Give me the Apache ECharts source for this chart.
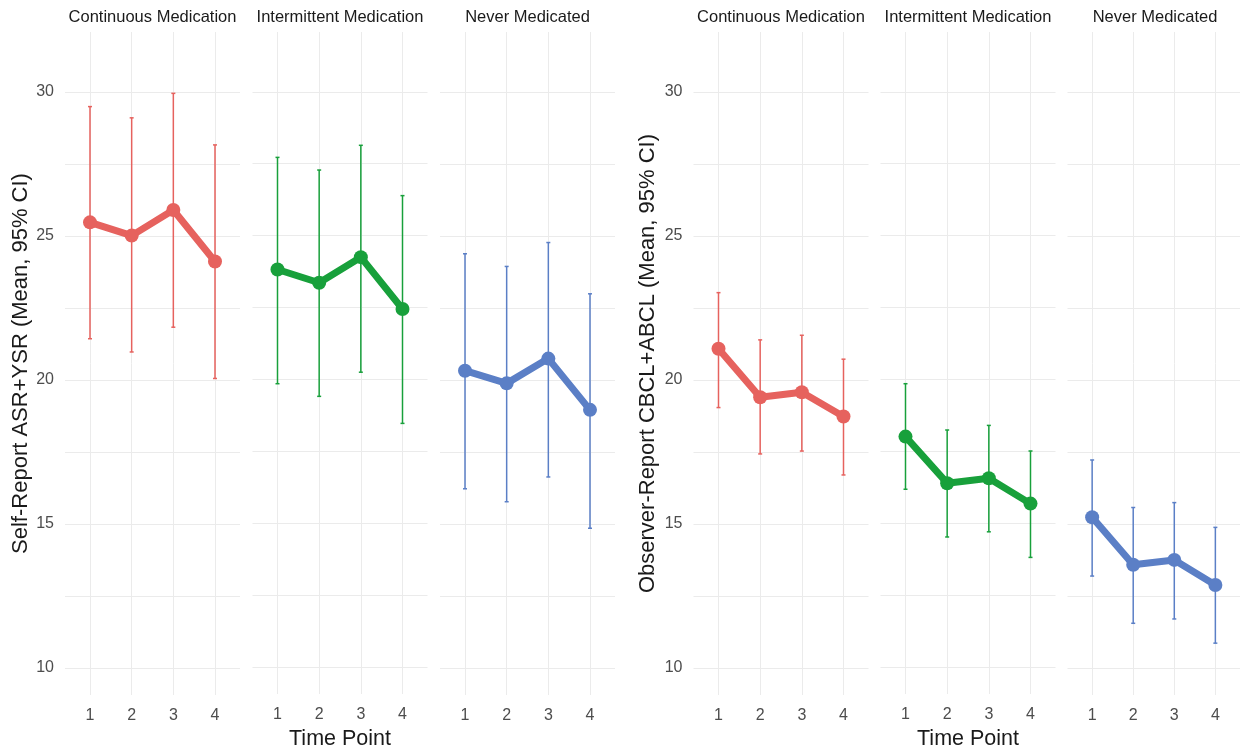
<!DOCTYPE html>
<html>
<head>
<meta charset="utf-8">
<script src="https://cdn.jsdelivr.net/npm/echarts@6/dist/echarts.min.js"></script>
<style>
html,body{margin:0;padding:0;background:#fff;}
#chart{width:1240px;height:755px;}
</style>
</head>
<body>
<div id="chart"></div>
<script>
// ---- data ----
const timePoints = [1, 2, 3, 4];
const groups = ['Continuous Medication', 'Intermittent Medication', 'Never Medicated'];
const yTickLabels = [10, 15, 20, 25, 30];
const yGridValues = [10, 12.5, 15, 17.5, 20, 22.5, 25, 27.5, 30];
const panelTitles = ['Self-Report ASR+YSR (Mean, 95% CI)', 'Observer-Report CBCL+ABCL (Mean, 95% CI)'];
const xTitle = 'Time Point';

// Self-report
const selfContMean = [25.47, 25.01, 25.90, 24.11];
const selfContLow  = [21.43, 20.97, 21.83, 20.05];
const selfContHigh = [29.49, 29.10, 29.95, 28.16];
const selfIntMean  = [23.82, 23.36, 24.25, 22.45];
const selfIntLow   = [19.85, 19.41, 20.25, 18.47];
const selfIntHigh  = [27.72, 27.28, 28.14, 26.39];
const selfNevMean  = [20.32, 19.88, 20.74, 18.96];
const selfNevLow   = [16.22, 15.77, 16.63, 14.85];
const selfNevHigh  = [24.38, 23.94, 24.77, 22.99];
// Observer-report
const obsContMean = [21.08, 19.40, 19.57, 18.73];
const obsContLow  = [19.04, 17.43, 17.53, 16.70];
const obsContHigh = [23.03, 21.39, 21.55, 20.72];
const obsIntMean  = [18.01, 16.39, 16.56, 15.68];
const obsIntLow   = [16.18, 14.52, 14.70, 13.81];
const obsIntHigh  = [19.85, 18.24, 18.40, 17.51];
const obsNevMean  = [15.23, 13.58, 13.75, 12.88];
const obsNevLow   = [13.19, 11.55, 11.70, 10.86];
const obsNevHigh  = [17.22, 15.57, 15.74, 14.88];

const groupColors = ['#E6625E', '#18A03B', '#5B7FC6'];

// ---- layout ----
const facets = [
  {left: 65,    panel: 0, g: 0, mean: selfContMean, low: selfContLow, high: selfContHigh},
  {left: 252.5, panel: 0, g: 1, mean: selfIntMean,  low: selfIntLow,  high: selfIntHigh},
  {left: 440,   panel: 0, g: 2, mean: selfNevMean,  low: selfNevLow,  high: selfNevHigh},
  {left: 693.5, panel: 1, g: 0, mean: obsContMean,  low: obsContLow,  high: obsContHigh},
  {left: 880.5, panel: 1, g: 1, mean: obsIntMean,   low: obsIntLow,   high: obsIntHigh},
  {left: 1067.5,panel: 1, g: 2, mean: obsNevMean,   low: obsNevLow,   high: obsNevHigh}
];
const FW = 175, TOP = 32, FH = 663;
const FONT = '"Liberation Sans", Arial, sans-serif';
const yNameGaps = [33, 34.5];

const grid = [], xAxis = [], yAxis = [], series = [], title = [];
facets.forEach((f, i) => {
  grid.push({left: f.left, top: TOP, width: FW, height: FH, containLabel: false});
  xAxis.push({
    gridIndex: i, type: 'value', min: 0.4, max: 4.6,
    axisLine: {show: false},
    axisTick: {show: false, customValues: timePoints},
    axisLabel: {customValues: timePoints, color: '#4d4d4d', fontSize: 16, fontFamily: FONT, margin: 13},
    splitLine: {show: true, lineStyle: {color: '#ebebeb', width: 1}},
    name: f.g === 1 ? xTitle : '',
    nameLocation: 'middle', nameGap: 34,
    nameTextStyle: {fontSize: 21.5, color: '#1a1a1a', fontFamily: FONT}
  });
  yAxis.push({
    gridIndex: i, type: 'value', min: 9.06, max: 32.08,
    axisLine: {show: false},
    axisTick: {show: false, customValues: yGridValues},
    axisLabel: {show: f.g === 0, customValues: yTickLabels, color: '#4d4d4d', fontSize: 16, fontFamily: FONT, margin: 11},
    splitLine: {show: true, lineStyle: {color: '#ebebeb', width: 1}},
    name: f.g === 0 ? panelTitles[f.panel] : '',
    nameLocation: 'middle', nameGap: yNameGaps[f.panel], nameRotate: 90,
    nameTextStyle: {fontSize: 22, color: '#1a1a1a', fontFamily: FONT}
  });
  title.push({
    text: groups[f.g], left: f.left + FW / 2, top: 9, textAlign: 'center', padding: 0,
    textStyle: {fontSize: 16.5, fontWeight: 'normal', color: '#1a1a1a', fontFamily: FONT}
  });
  const color = groupColors[f.g];
  series.push({
    type: 'custom', xAxisIndex: i, yAxisIndex: i, z: 2,
    data: timePoints.map((t, k) => [t, f.low[k], f.high[k]]),
    renderItem: function (params, api) {
      const x = api.value(0);
      const lo = api.coord([x, api.value(1)]);
      const hi = api.coord([x, api.value(2)]);
      const hw = 2;
      const style = {stroke: color, lineWidth: 1.5, fill: null};
      return {
        type: 'group',
        children: [
          {type: 'line', shape: {x1: lo[0], y1: lo[1], x2: hi[0], y2: hi[1]}, style: style},
          {type: 'line', shape: {x1: lo[0] - hw, y1: lo[1], x2: lo[0] + hw, y2: lo[1]}, style: style},
          {type: 'line', shape: {x1: hi[0] - hw, y1: hi[1], x2: hi[0] + hw, y2: hi[1]}, style: style}
        ]
      };
    },
    silent: true
  });
  series.push({
    type: 'line', xAxisIndex: i, yAxisIndex: i, z: 3,
    data: timePoints.map((t, k) => [t, f.mean[k]]),
    symbol: 'circle', symbolSize: 14,
    lineStyle: {color: color, width: 7},
    itemStyle: {color: color},
    animation: false, silent: true
  });
});

const chart = echarts.init(document.getElementById('chart'), null, {renderer: 'canvas'});
chart.setOption({
  backgroundColor: '#ffffff',
  animation: false,
  title: title,
  grid: grid,
  xAxis: xAxis,
  yAxis: yAxis,
  series: series
});
</script>
</body>
</html>
